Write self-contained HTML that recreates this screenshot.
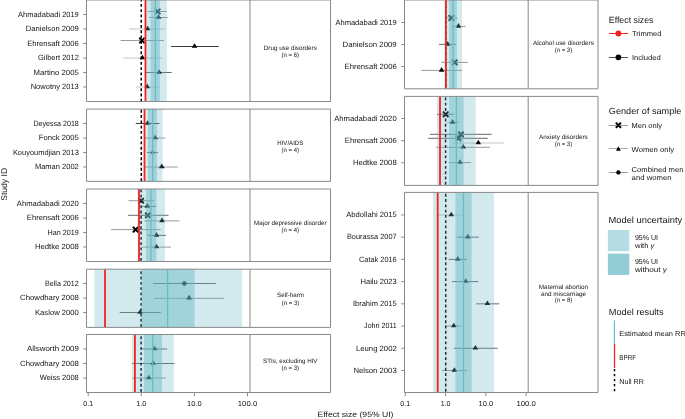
<!DOCTYPE html>
<html><head><meta charset="utf-8"><style>
html,body{margin:0;padding:0;background:#fff;width:685px;height:419px;overflow:hidden;}
svg{display:block;will-change:transform;text-rendering:geometricPrecision;}
</style></head><body>
<svg width="685" height="419" viewBox="0 0 685 419" font-family='"Liberation Sans", sans-serif'>
<rect width="685" height="419" fill="#fff"/>
<line x1="147.7" y1="11.5" x2="166.9" y2="11.5" stroke="#9a9a9a" stroke-width="1.0"/>
<line x1="148.9" y1="17.5" x2="167.8" y2="17.5" stroke="#9a9a9a" stroke-width="1.0"/>
<line x1="129.0" y1="29.0" x2="165.1" y2="29.0" stroke="#c4c4c4" stroke-width="1.0"/>
<line x1="120.6" y1="40.5" x2="163.9" y2="40.5" stroke="#9a9a9a" stroke-width="1.0"/>
<line x1="171.0" y1="46.5" x2="218.6" y2="46.5" stroke="#3a3a3a" stroke-width="1.0"/>
<line x1="123.4" y1="58.0" x2="161.7" y2="58.0" stroke="#c4c4c4" stroke-width="1.0"/>
<line x1="145.5" y1="72.5" x2="171.7" y2="72.5" stroke="#6a6a6a" stroke-width="1.0"/>
<line x1="135.9" y1="87.0" x2="158.7" y2="87.0" stroke="#c4c4c4" stroke-width="1.0"/>
<path d="M155.50 9.40L159.70 13.60M159.70 9.40L155.50 13.60" stroke="#000" stroke-width="2.0" stroke-linecap="round" fill="none"/>
<path d="M158.50 14.20L161.30 18.75L155.70 18.75Z" fill="#000"/>
<path d="M147.60 25.70L150.40 30.25L144.80 30.25Z" fill="#000"/>
<path d="M139.80 38.40L144.00 42.60M144.00 38.40L139.80 42.60" stroke="#000" stroke-width="2.0" stroke-linecap="round" fill="none"/>
<path d="M194.55 43.20L197.35 47.75L191.75 47.75Z" fill="#000"/>
<path d="M142.40 54.70L145.20 59.25L139.60 59.25Z" fill="#000"/>
<path d="M159.10 69.20L161.90 73.75L156.30 73.75Z" fill="#000"/>
<path d="M147.30 83.70L150.10 88.25L144.50 88.25Z" fill="#000"/>
<line x1="141.25" y1="0.0" x2="141.25" y2="101.5" stroke="#000" stroke-width="1.5" stroke-dasharray="2.9 2.37" stroke-dashoffset="1.35"/>
<rect x="146.0" y="0.0" width="20.90" height="101.50" fill="#62b6c4" fill-opacity="0.285"/>
<rect x="150.6" y="0.0" width="9.30" height="101.50" fill="#62b6c4" fill-opacity="0.44"/>
<line x1="155.4" y1="0.0" x2="155.4" y2="101.5" stroke="#6cbac3" stroke-width="1.3"/>
<line x1="145.45" y1="0.0" x2="145.45" y2="101.5" stroke="#f72020" stroke-width="1.8"/>
<line x1="86.5" y1="0.0" x2="330.5" y2="0.0" stroke="#898989" stroke-width="1.0"/>
<line x1="86.5" y1="101.5" x2="330.5" y2="101.5" stroke="#898989" stroke-width="1.0"/>
<line x1="86.5" y1="0.0" x2="86.5" y2="101.5" stroke="#898989" stroke-width="1.0"/>
<line x1="330.5" y1="0.0" x2="330.5" y2="101.5" stroke="#898989" stroke-width="1.0"/>
<line x1="250.0" y1="0.0" x2="250.0" y2="101.5" stroke="#898989" stroke-width="1.0"/>
<text x="290.3" y="49.9" font-size="6.3" text-anchor="middle" fill="#141414" textLength="53.0" lengthAdjust="spacingAndGlyphs">Drug use disorders</text>
<text x="290.3" y="57.0" font-size="6.3" text-anchor="middle" fill="#141414" textLength="17.5" lengthAdjust="spacingAndGlyphs">(n = 6)</text>
<line x1="135.8" y1="123.5" x2="159.3" y2="123.5" stroke="#3a3a3a" stroke-width="1.0"/>
<line x1="145.0" y1="138.0" x2="165.4" y2="138.0" stroke="#9a9a9a" stroke-width="1.0"/>
<line x1="147.0" y1="152.5" x2="157.9" y2="152.5" stroke="#6a6a6a" stroke-width="1.0"/>
<line x1="145.3" y1="167.0" x2="177.8" y2="167.0" stroke="#9a9a9a" stroke-width="1.0"/>
<path d="M147.70 120.20L150.50 124.75L144.90 124.75Z" fill="#000"/>
<path d="M155.30 134.70L158.10 139.25L152.50 139.25Z" fill="#000"/>
<path d="M152.60 149.69L154.98 153.56L150.22 153.56Z" fill="#000"/>
<path d="M161.70 163.53L164.64 168.31L158.76 168.31Z" fill="#000"/>
<line x1="141.3" y1="109.1" x2="141.3" y2="181.4" stroke="#000" stroke-width="1.5" stroke-dasharray="2.9 2.37" stroke-dashoffset="-0.75"/>
<rect x="145.3" y="109.1" width="17.30" height="72.30" fill="#62b6c4" fill-opacity="0.285"/>
<rect x="148.0" y="109.1" width="9.00" height="72.30" fill="#62b6c4" fill-opacity="0.44"/>
<line x1="152.7" y1="109.1" x2="152.7" y2="181.4" stroke="#6cbac3" stroke-width="1.3"/>
<line x1="144.5" y1="109.1" x2="144.5" y2="181.4" stroke="#f72020" stroke-width="1.8"/>
<line x1="86.5" y1="109.1" x2="330.5" y2="109.1" stroke="#898989" stroke-width="1.0"/>
<line x1="86.5" y1="181.4" x2="330.5" y2="181.4" stroke="#898989" stroke-width="1.0"/>
<line x1="86.5" y1="109.1" x2="86.5" y2="181.4" stroke="#898989" stroke-width="1.0"/>
<line x1="330.5" y1="109.1" x2="330.5" y2="181.4" stroke="#898989" stroke-width="1.0"/>
<line x1="250.0" y1="109.1" x2="250.0" y2="181.4" stroke="#898989" stroke-width="1.0"/>
<text x="290.3" y="144.6" font-size="6.3" text-anchor="middle" fill="#141414" textLength="26.0" lengthAdjust="spacingAndGlyphs">HIV/AIDS</text>
<text x="290.3" y="151.6" font-size="6.3" text-anchor="middle" fill="#141414" textLength="17.5" lengthAdjust="spacingAndGlyphs">(n = 4)</text>
<line x1="128.5" y1="200.7" x2="153.9" y2="200.7" stroke="#9a9a9a" stroke-width="1.0"/>
<line x1="142.1" y1="206.4" x2="155.8" y2="206.4" stroke="#6a6a6a" stroke-width="1.0"/>
<line x1="128.1" y1="215.3" x2="168.5" y2="215.3" stroke="#6a6a6a" stroke-width="1.0"/>
<line x1="144.4" y1="220.9" x2="179.5" y2="220.9" stroke="#9a9a9a" stroke-width="1.0"/>
<line x1="111.1" y1="229.6" x2="160.8" y2="229.6" stroke="#9a9a9a" stroke-width="1.0"/>
<line x1="147.3" y1="235.4" x2="166.0" y2="235.4" stroke="#6a6a6a" stroke-width="1.0"/>
<line x1="142.1" y1="247.1" x2="171.0" y2="247.1" stroke="#9a9a9a" stroke-width="1.0"/>
<path d="M139.10 198.60L143.30 202.80M143.30 198.60L139.10 202.80" stroke="#000" stroke-width="2.0" stroke-linecap="round" fill="none"/>
<path d="M147.30 203.10L150.10 207.65L144.50 207.65Z" fill="#000"/>
<path d="M145.80 213.20L150.00 217.40M150.00 213.20L145.80 217.40" stroke="#000" stroke-width="2.0" stroke-linecap="round" fill="none"/>
<path d="M162.00 217.60L164.80 222.15L159.20 222.15Z" fill="#000"/>
<path d="M133.39 227.39L137.81 231.81M137.81 227.39L133.39 231.81" stroke="#000" stroke-width="2.0" stroke-linecap="round" fill="none"/>
<path d="M156.40 232.10L159.20 236.65L153.60 236.65Z" fill="#000"/>
<path d="M156.40 243.80L159.20 248.35L153.60 248.35Z" fill="#000"/>
<line x1="141.1" y1="189.0" x2="141.1" y2="261.5" stroke="#000" stroke-width="1.5" stroke-dasharray="2.9 2.37" stroke-dashoffset="-0.45"/>
<rect x="137.6" y="189.0" width="27.30" height="72.50" fill="#62b6c4" fill-opacity="0.285"/>
<rect x="146.0" y="189.0" width="10.40" height="72.50" fill="#62b6c4" fill-opacity="0.44"/>
<line x1="151.0" y1="189.0" x2="151.0" y2="261.5" stroke="#6cbac3" stroke-width="1.3"/>
<line x1="139.0" y1="189.0" x2="139.0" y2="261.5" stroke="#f72020" stroke-width="1.8"/>
<line x1="86.5" y1="189.0" x2="330.5" y2="189.0" stroke="#898989" stroke-width="1.0"/>
<line x1="86.5" y1="261.5" x2="330.5" y2="261.5" stroke="#898989" stroke-width="1.0"/>
<line x1="86.5" y1="189.0" x2="86.5" y2="261.5" stroke="#898989" stroke-width="1.0"/>
<line x1="330.5" y1="189.0" x2="330.5" y2="261.5" stroke="#898989" stroke-width="1.0"/>
<line x1="250.0" y1="189.0" x2="250.0" y2="261.5" stroke="#898989" stroke-width="1.0"/>
<text x="290.3" y="224.6" font-size="6.3" text-anchor="middle" fill="#141414" textLength="72.4" lengthAdjust="spacingAndGlyphs">Major depressive disorder</text>
<text x="290.3" y="231.6" font-size="6.3" text-anchor="middle" fill="#141414" textLength="17.5" lengthAdjust="spacingAndGlyphs">(n = 4)</text>
<line x1="153.3" y1="283.5" x2="215.8" y2="283.5" stroke="#6a6a6a" stroke-width="1.0"/>
<line x1="154.0" y1="298.3" x2="224.0" y2="298.3" stroke="#9a9a9a" stroke-width="1.0"/>
<line x1="119.7" y1="312.5" x2="160.7" y2="312.5" stroke="#6a6a6a" stroke-width="1.0"/>
<circle cx="184.4" cy="283.5" r="2.3" fill="#000"/>
<path d="M189.10 294.84L192.04 299.61L186.16 299.61Z" fill="#000"/>
<path d="M140.10 309.20L142.90 313.75L137.30 313.75Z" fill="#000"/>
<line x1="141.1" y1="269.2" x2="141.1" y2="327.4" stroke="#000" stroke-width="1.5" stroke-dasharray="2.9 2.37" stroke-dashoffset="-2.15"/>
<rect x="94.4" y="269.2" width="147.70" height="58.20" fill="#62b6c4" fill-opacity="0.285"/>
<rect x="141.6" y="269.2" width="52.90" height="58.20" fill="#62b6c4" fill-opacity="0.44"/>
<line x1="167.6" y1="269.2" x2="167.6" y2="327.4" stroke="#6cbac3" stroke-width="1.3"/>
<line x1="105.0" y1="269.2" x2="105.0" y2="327.4" stroke="#f72020" stroke-width="1.8"/>
<line x1="86.5" y1="269.2" x2="330.5" y2="269.2" stroke="#898989" stroke-width="1.0"/>
<line x1="86.5" y1="327.4" x2="330.5" y2="327.4" stroke="#898989" stroke-width="1.0"/>
<line x1="86.5" y1="269.2" x2="86.5" y2="327.4" stroke="#898989" stroke-width="1.0"/>
<line x1="330.5" y1="269.2" x2="330.5" y2="327.4" stroke="#898989" stroke-width="1.0"/>
<line x1="250.0" y1="269.2" x2="250.0" y2="327.4" stroke="#898989" stroke-width="1.0"/>
<text x="290.5" y="297.3" font-size="6.3" text-anchor="middle" fill="#141414" textLength="26.9" lengthAdjust="spacingAndGlyphs">Self-harm</text>
<text x="290.5" y="304.5" font-size="6.3" text-anchor="middle" fill="#141414" textLength="17.5" lengthAdjust="spacingAndGlyphs">(n = 3)</text>
<line x1="141.0" y1="349.0" x2="167.0" y2="349.0" stroke="#6a6a6a" stroke-width="1.0"/>
<line x1="132.1" y1="363.5" x2="174.4" y2="363.5" stroke="#6a6a6a" stroke-width="1.0"/>
<line x1="132.1" y1="378.0" x2="165.9" y2="378.0" stroke="#9a9a9a" stroke-width="1.0"/>
<path d="M154.60 345.70L157.40 350.25L151.80 350.25Z" fill="#000"/>
<path d="M153.20 360.20L156.00 364.75L150.40 364.75Z" fill="#000"/>
<path d="M148.80 374.70L151.60 379.25L146.00 379.25Z" fill="#000"/>
<line x1="141.1" y1="334.5" x2="141.1" y2="392.5" stroke="#000" stroke-width="1.5" stroke-dasharray="2.9 2.37" stroke-dashoffset="-1.85"/>
<rect x="131.8" y="334.5" width="41.80" height="58.00" fill="#62b6c4" fill-opacity="0.285"/>
<rect x="143.9" y="334.5" width="18.10" height="58.00" fill="#62b6c4" fill-opacity="0.44"/>
<line x1="152.7" y1="334.5" x2="152.7" y2="392.5" stroke="#6cbac3" stroke-width="1.3"/>
<line x1="134.9" y1="334.5" x2="134.9" y2="392.5" stroke="#f72020" stroke-width="1.8"/>
<line x1="86.5" y1="334.5" x2="330.5" y2="334.5" stroke="#898989" stroke-width="1.0"/>
<line x1="86.5" y1="392.5" x2="330.5" y2="392.5" stroke="#898989" stroke-width="1.0"/>
<line x1="86.5" y1="334.5" x2="86.5" y2="392.5" stroke="#898989" stroke-width="1.0"/>
<line x1="330.5" y1="334.5" x2="330.5" y2="392.5" stroke="#898989" stroke-width="1.0"/>
<line x1="250.0" y1="334.5" x2="250.0" y2="392.5" stroke="#898989" stroke-width="1.0"/>
<text x="290.3" y="363.1" font-size="6.3" text-anchor="middle" fill="#141414" textLength="54.4" lengthAdjust="spacingAndGlyphs">STIs, excluding HIV</text>
<text x="290.3" y="370.1" font-size="6.3" text-anchor="middle" fill="#141414" textLength="17.5" lengthAdjust="spacingAndGlyphs">(n = 3)</text>
<line x1="446.0" y1="18.0" x2="457.7" y2="18.0" stroke="#9a9a9a" stroke-width="1.0"/>
<line x1="451.8" y1="26.4" x2="465.6" y2="26.4" stroke="#9a9a9a" stroke-width="1.0"/>
<line x1="438.8" y1="44.4" x2="456.1" y2="44.4" stroke="#6a6a6a" stroke-width="1.0"/>
<line x1="441.3" y1="62.4" x2="467.8" y2="62.4" stroke="#9a9a9a" stroke-width="1.0"/>
<line x1="421.2" y1="70.4" x2="462.2" y2="70.4" stroke="#9a9a9a" stroke-width="1.0"/>
<path d="M449.30 15.79L453.70 20.20M453.70 15.79L449.30 20.20" stroke="#000" stroke-width="2.0" stroke-linecap="round" fill="none"/>
<path d="M458.50 23.10L461.30 27.65L455.70 27.65Z" fill="#000"/>
<path d="M447.70 41.10L450.50 45.65L444.90 45.65Z" fill="#000"/>
<path d="M452.60 60.30L456.80 64.50M456.80 60.30L452.60 64.50" stroke="#000" stroke-width="2.0" stroke-linecap="round" fill="none"/>
<path d="M441.60 67.10L444.40 71.65L438.80 71.65Z" fill="#000"/>
<line x1="445.85" y1="0.0" x2="445.85" y2="88.8" stroke="#000" stroke-width="1.5" stroke-dasharray="2.9 2.37" stroke-dashoffset="0.25"/>
<rect x="444.5" y="0.0" width="17.50" height="88.80" fill="#62b6c4" fill-opacity="0.285"/>
<rect x="449.0" y="0.0" width="7.90" height="88.80" fill="#62b6c4" fill-opacity="0.44"/>
<line x1="453.1" y1="0.0" x2="453.1" y2="88.8" stroke="#6cbac3" stroke-width="1.3"/>
<line x1="445.85" y1="0.0" x2="445.85" y2="88.8" stroke="#f72020" stroke-width="1.8"/>
<line x1="404.5" y1="0.0" x2="598.0" y2="0.0" stroke="#898989" stroke-width="1.0"/>
<line x1="404.5" y1="88.8" x2="598.0" y2="88.8" stroke="#898989" stroke-width="1.0"/>
<line x1="404.5" y1="0.0" x2="404.5" y2="88.8" stroke="#898989" stroke-width="1.0"/>
<line x1="598.0" y1="0.0" x2="598.0" y2="88.8" stroke="#898989" stroke-width="1.0"/>
<line x1="528.2" y1="0.0" x2="528.2" y2="88.8" stroke="#898989" stroke-width="1.0"/>
<text x="563.4" y="44.8" font-size="6.3" text-anchor="middle" fill="#141414" textLength="61.0" lengthAdjust="spacingAndGlyphs">Alcohol use disorders</text>
<text x="563.4" y="52.0" font-size="6.3" text-anchor="middle" fill="#141414" textLength="17.5" lengthAdjust="spacingAndGlyphs">(n = 3)</text>
<line x1="436.9" y1="114.3" x2="454.1" y2="114.3" stroke="#6a6a6a" stroke-width="1.0"/>
<line x1="447.2" y1="122.4" x2="458.8" y2="122.4" stroke="#9a9a9a" stroke-width="1.0"/>
<line x1="430.0" y1="134.3" x2="491.6" y2="134.3" stroke="#6a6a6a" stroke-width="1.0"/>
<line x1="428.1" y1="138.3" x2="487.7" y2="138.3" stroke="#6a6a6a" stroke-width="1.0"/>
<line x1="452.9" y1="143.0" x2="503.8" y2="143.0" stroke="#c4c4c4" stroke-width="1.0"/>
<line x1="436.2" y1="147.3" x2="489.8" y2="147.3" stroke="#9a9a9a" stroke-width="1.0"/>
<line x1="448.9" y1="162.6" x2="471.1" y2="162.6" stroke="#9a9a9a" stroke-width="1.0"/>
<path d="M443.50 112.09L447.90 116.50M447.90 112.09L443.50 116.50" stroke="#000" stroke-width="2.0" stroke-linecap="round" fill="none"/>
<path d="M452.60 119.10L455.40 123.65L449.80 123.65Z" fill="#000"/>
<path d="M458.90 132.20L463.10 136.40M463.10 132.20L458.90 136.40" stroke="#000" stroke-width="2.0" stroke-linecap="round" fill="none"/>
<path d="M456.40 136.20L460.60 140.40M460.60 136.20L456.40 140.40" stroke="#000" stroke-width="2.0" stroke-linecap="round" fill="none"/>
<path d="M478.30 139.70L481.10 144.25L475.50 144.25Z" fill="#000"/>
<path d="M463.20 144.00L466.00 148.55L460.40 148.55Z" fill="#000"/>
<path d="M460.10 159.30L462.90 163.85L457.30 163.85Z" fill="#000"/>
<line x1="445.6" y1="96.4" x2="445.6" y2="185.4" stroke="#000" stroke-width="1.5" stroke-dasharray="2.9 2.37" stroke-dashoffset="-1.05"/>
<rect x="436.9" y="96.4" width="38.80" height="89.00" fill="#62b6c4" fill-opacity="0.285"/>
<rect x="449.0" y="96.4" width="14.60" height="89.00" fill="#62b6c4" fill-opacity="0.44"/>
<line x1="456.4" y1="96.4" x2="456.4" y2="185.4" stroke="#6cbac3" stroke-width="1.3"/>
<line x1="440.0" y1="96.4" x2="440.0" y2="185.4" stroke="#f72020" stroke-width="1.8"/>
<line x1="404.5" y1="96.4" x2="598.0" y2="96.4" stroke="#898989" stroke-width="1.0"/>
<line x1="404.5" y1="185.4" x2="598.0" y2="185.4" stroke="#898989" stroke-width="1.0"/>
<line x1="404.5" y1="96.4" x2="404.5" y2="185.4" stroke="#898989" stroke-width="1.0"/>
<line x1="598.0" y1="96.4" x2="598.0" y2="185.4" stroke="#898989" stroke-width="1.0"/>
<line x1="528.2" y1="96.4" x2="528.2" y2="185.4" stroke="#898989" stroke-width="1.0"/>
<text x="563.4" y="138.8" font-size="6.3" text-anchor="middle" fill="#141414" textLength="48.7" lengthAdjust="spacingAndGlyphs">Anxiety disorders</text>
<text x="563.4" y="146.0" font-size="6.3" text-anchor="middle" fill="#141414" textLength="17.5" lengthAdjust="spacingAndGlyphs">(n = 3)</text>
<line x1="438.0" y1="214.95" x2="464.3" y2="214.95" stroke="#c4c4c4" stroke-width="1.0"/>
<line x1="457.2" y1="237.17" x2="478.8" y2="237.17" stroke="#6a6a6a" stroke-width="1.0"/>
<line x1="448.6" y1="259.39" x2="467.0" y2="259.39" stroke="#6a6a6a" stroke-width="1.0"/>
<line x1="452.0" y1="281.61" x2="478.3" y2="281.61" stroke="#6a6a6a" stroke-width="1.0"/>
<line x1="476.2" y1="303.83" x2="499.3" y2="303.83" stroke="#6a6a6a" stroke-width="1.0"/>
<line x1="445.2" y1="326.05" x2="461.7" y2="326.05" stroke="#9a9a9a" stroke-width="1.0"/>
<line x1="453.8" y1="348.27" x2="497.7" y2="348.27" stroke="#6a6a6a" stroke-width="1.0"/>
<line x1="442.0" y1="370.49" x2="467.0" y2="370.49" stroke="#9a9a9a" stroke-width="1.0"/>
<path d="M451.20 211.65L454.00 216.20L448.40 216.20Z" fill="#000"/>
<path d="M467.80 233.87L470.60 238.42L465.00 238.42Z" fill="#000"/>
<path d="M457.80 256.09L460.60 260.64L455.00 260.64Z" fill="#000"/>
<path d="M465.70 278.31L468.50 282.86L462.90 282.86Z" fill="#000"/>
<path d="M487.40 300.53L490.20 305.08L484.60 305.08Z" fill="#000"/>
<path d="M453.80 322.75L456.60 327.30L451.00 327.30Z" fill="#000"/>
<path d="M475.40 344.97L478.20 349.52L472.60 349.52Z" fill="#000"/>
<path d="M454.40 367.19L457.20 371.74L451.60 371.74Z" fill="#000"/>
<line x1="445.7" y1="192.4" x2="445.7" y2="392.5" stroke="#000" stroke-width="1.5" stroke-dasharray="2.9 2.37" stroke-dashoffset="-1.45"/>
<rect x="433.0" y="192.4" width="61.00" height="200.10" fill="#62b6c4" fill-opacity="0.285"/>
<rect x="455.4" y="192.4" width="16.20" height="200.10" fill="#62b6c4" fill-opacity="0.44"/>
<line x1="463.5" y1="192.4" x2="463.5" y2="392.5" stroke="#6cbac3" stroke-width="1.3"/>
<line x1="437.7" y1="192.4" x2="437.7" y2="392.5" stroke="#f72020" stroke-width="1.8"/>
<line x1="404.5" y1="192.4" x2="598.0" y2="192.4" stroke="#898989" stroke-width="1.0"/>
<line x1="404.5" y1="392.5" x2="598.0" y2="392.5" stroke="#898989" stroke-width="1.0"/>
<line x1="404.5" y1="192.4" x2="404.5" y2="392.5" stroke="#898989" stroke-width="1.0"/>
<line x1="598.0" y1="192.4" x2="598.0" y2="392.5" stroke="#898989" stroke-width="1.0"/>
<line x1="528.2" y1="192.4" x2="528.2" y2="392.5" stroke="#898989" stroke-width="1.0"/>
<text x="563.5" y="288.7" font-size="6.3" text-anchor="middle" fill="#141414" textLength="49.3" lengthAdjust="spacingAndGlyphs">Maternal abortion</text>
<text x="563.5" y="296.0" font-size="6.3" text-anchor="middle" fill="#141414" textLength="45.2" lengthAdjust="spacingAndGlyphs">and miscarriage</text>
<text x="563.5" y="302.4" font-size="6.3" text-anchor="middle" fill="#141414" textLength="17.5" lengthAdjust="spacingAndGlyphs">(n = 8)</text>
<line x1="83.2" y1="14.5" x2="86.5" y2="14.5" stroke="#898989" stroke-width="1.0"/>
<text x="78.8" y="16.75" font-size="7.6" text-anchor="end" fill="#141414" textLength="60.7" lengthAdjust="spacingAndGlyphs">Ahmadabadi 2019</text>
<line x1="83.2" y1="29.0" x2="86.5" y2="29.0" stroke="#898989" stroke-width="1.0"/>
<text x="78.8" y="31.25" font-size="7.6" text-anchor="end" fill="#141414" textLength="53.1" lengthAdjust="spacingAndGlyphs">Danielson 2009</text>
<line x1="83.2" y1="43.5" x2="86.5" y2="43.5" stroke="#898989" stroke-width="1.0"/>
<text x="78.8" y="45.75" font-size="7.6" text-anchor="end" fill="#141414" textLength="51.6" lengthAdjust="spacingAndGlyphs">Ehrensaft 2006</text>
<line x1="83.2" y1="58.0" x2="86.5" y2="58.0" stroke="#898989" stroke-width="1.0"/>
<text x="78.8" y="60.25" font-size="7.6" text-anchor="end" fill="#141414" textLength="40.8" lengthAdjust="spacingAndGlyphs">Gilbert 2012</text>
<line x1="83.2" y1="72.5" x2="86.5" y2="72.5" stroke="#898989" stroke-width="1.0"/>
<text x="78.8" y="74.75" font-size="7.6" text-anchor="end" fill="#141414" textLength="45.2" lengthAdjust="spacingAndGlyphs">Martino 2005</text>
<line x1="83.2" y1="87.0" x2="86.5" y2="87.0" stroke="#898989" stroke-width="1.0"/>
<text x="78.8" y="89.25" font-size="7.6" text-anchor="end" fill="#141414" textLength="48.1" lengthAdjust="spacingAndGlyphs">Nowotny 2013</text>
<line x1="83.2" y1="123.5" x2="86.5" y2="123.5" stroke="#898989" stroke-width="1.0"/>
<text x="78.8" y="125.75" font-size="7.6" text-anchor="end" fill="#141414" textLength="45.4" lengthAdjust="spacingAndGlyphs">Deyessa 2018</text>
<line x1="83.2" y1="138.0" x2="86.5" y2="138.0" stroke="#898989" stroke-width="1.0"/>
<text x="78.8" y="140.25" font-size="7.6" text-anchor="end" fill="#141414" textLength="40.0" lengthAdjust="spacingAndGlyphs">Fonck 2005</text>
<line x1="83.2" y1="152.5" x2="86.5" y2="152.5" stroke="#898989" stroke-width="1.0"/>
<text x="78.8" y="154.75" font-size="7.6" text-anchor="end" fill="#141414" textLength="65.9" lengthAdjust="spacingAndGlyphs">Kouyoumdjian 2013</text>
<line x1="83.2" y1="167.0" x2="86.5" y2="167.0" stroke="#898989" stroke-width="1.0"/>
<text x="78.8" y="169.25" font-size="7.6" text-anchor="end" fill="#141414" textLength="43.9" lengthAdjust="spacingAndGlyphs">Maman 2002</text>
<line x1="83.2" y1="203.5" x2="86.5" y2="203.5" stroke="#898989" stroke-width="1.0"/>
<text x="78.8" y="205.75" font-size="7.6" text-anchor="end" fill="#141414" textLength="62.0" lengthAdjust="spacingAndGlyphs">Ahmadabadi 2020</text>
<line x1="83.2" y1="218.0" x2="86.5" y2="218.0" stroke="#898989" stroke-width="1.0"/>
<text x="78.8" y="220.25" font-size="7.6" text-anchor="end" fill="#141414" textLength="52.0" lengthAdjust="spacingAndGlyphs">Ehrensaft 2006</text>
<line x1="83.2" y1="232.5" x2="86.5" y2="232.5" stroke="#898989" stroke-width="1.0"/>
<text x="78.8" y="234.75" font-size="7.6" text-anchor="end" fill="#141414" textLength="31.3" lengthAdjust="spacingAndGlyphs">Han 2019</text>
<line x1="83.2" y1="247.0" x2="86.5" y2="247.0" stroke="#898989" stroke-width="1.0"/>
<text x="78.8" y="249.25" font-size="7.6" text-anchor="end" fill="#141414" textLength="43.9" lengthAdjust="spacingAndGlyphs">Hedtke 2008</text>
<line x1="83.2" y1="283.5" x2="86.5" y2="283.5" stroke="#898989" stroke-width="1.0"/>
<text x="78.8" y="285.75" font-size="7.6" text-anchor="end" fill="#141414" textLength="33.8" lengthAdjust="spacingAndGlyphs">Bella 2012</text>
<line x1="83.2" y1="298.0" x2="86.5" y2="298.0" stroke="#898989" stroke-width="1.0"/>
<text x="78.8" y="300.25" font-size="7.6" text-anchor="end" fill="#141414" textLength="58.7" lengthAdjust="spacingAndGlyphs">Chowdhary 2008</text>
<line x1="83.2" y1="312.5" x2="86.5" y2="312.5" stroke="#898989" stroke-width="1.0"/>
<text x="78.8" y="314.75" font-size="7.6" text-anchor="end" fill="#141414" textLength="43.8" lengthAdjust="spacingAndGlyphs">Kaslow 2000</text>
<line x1="83.2" y1="349.0" x2="86.5" y2="349.0" stroke="#898989" stroke-width="1.0"/>
<text x="78.8" y="351.25" font-size="7.6" text-anchor="end" fill="#141414" textLength="51.7" lengthAdjust="spacingAndGlyphs">Allsworth 2009</text>
<line x1="83.2" y1="363.5" x2="86.5" y2="363.5" stroke="#898989" stroke-width="1.0"/>
<text x="78.8" y="365.75" font-size="7.6" text-anchor="end" fill="#141414" textLength="58.7" lengthAdjust="spacingAndGlyphs">Chowdhary 2008</text>
<line x1="83.2" y1="378.0" x2="86.5" y2="378.0" stroke="#898989" stroke-width="1.0"/>
<text x="78.8" y="380.25" font-size="7.6" text-anchor="end" fill="#141414" textLength="39.1" lengthAdjust="spacingAndGlyphs">Weiss 2008</text>
<line x1="401.2" y1="22.5" x2="404.5" y2="22.5" stroke="#898989" stroke-width="1.0"/>
<text x="396.7" y="24.75" font-size="7.6" text-anchor="end" fill="#141414" textLength="61.3" lengthAdjust="spacingAndGlyphs">Ahmadabadi 2019</text>
<line x1="401.2" y1="44.5" x2="404.5" y2="44.5" stroke="#898989" stroke-width="1.0"/>
<text x="396.7" y="46.75" font-size="7.6" text-anchor="end" fill="#141414" textLength="54.2" lengthAdjust="spacingAndGlyphs">Danielson 2009</text>
<line x1="401.2" y1="66.5" x2="404.5" y2="66.5" stroke="#898989" stroke-width="1.0"/>
<text x="396.7" y="68.75" font-size="7.6" text-anchor="end" fill="#141414" textLength="52.1" lengthAdjust="spacingAndGlyphs">Ehrensaft 2006</text>
<line x1="401.2" y1="118.5" x2="404.5" y2="118.5" stroke="#898989" stroke-width="1.0"/>
<text x="396.7" y="120.75" font-size="7.6" text-anchor="end" fill="#141414" textLength="62.5" lengthAdjust="spacingAndGlyphs">Ahmadabadi 2020</text>
<line x1="401.2" y1="140.65" x2="404.5" y2="140.65" stroke="#898989" stroke-width="1.0"/>
<text x="396.7" y="142.9" font-size="7.6" text-anchor="end" fill="#141414" textLength="51.9" lengthAdjust="spacingAndGlyphs">Ehrensaft 2006</text>
<line x1="401.2" y1="162.8" x2="404.5" y2="162.8" stroke="#898989" stroke-width="1.0"/>
<text x="396.7" y="165.05" font-size="7.6" text-anchor="end" fill="#141414" textLength="43.8" lengthAdjust="spacingAndGlyphs">Hedtke 2008</text>
<line x1="401.2" y1="214.95" x2="404.5" y2="214.95" stroke="#898989" stroke-width="1.0"/>
<text x="396.7" y="217.2" font-size="7.6" text-anchor="end" fill="#141414" textLength="50.5" lengthAdjust="spacingAndGlyphs">Abdollahi 2015</text>
<line x1="401.2" y1="237.17" x2="404.5" y2="237.17" stroke="#898989" stroke-width="1.0"/>
<text x="396.7" y="239.42" font-size="7.6" text-anchor="end" fill="#141414" textLength="49.8" lengthAdjust="spacingAndGlyphs">Bourassa 2007</text>
<line x1="401.2" y1="259.39" x2="404.5" y2="259.39" stroke="#898989" stroke-width="1.0"/>
<text x="396.7" y="261.64" font-size="7.6" text-anchor="end" fill="#141414" textLength="37.7" lengthAdjust="spacingAndGlyphs">Catak 2016</text>
<line x1="401.2" y1="281.61" x2="404.5" y2="281.61" stroke="#898989" stroke-width="1.0"/>
<text x="396.7" y="283.86" font-size="7.6" text-anchor="end" fill="#141414" textLength="36.2" lengthAdjust="spacingAndGlyphs">Hailu 2023</text>
<line x1="401.2" y1="303.83" x2="404.5" y2="303.83" stroke="#898989" stroke-width="1.0"/>
<text x="396.7" y="306.08" font-size="7.6" text-anchor="end" fill="#141414" textLength="43.8" lengthAdjust="spacingAndGlyphs">Ibrahim 2015</text>
<line x1="401.2" y1="326.04999999999995" x2="404.5" y2="326.04999999999995" stroke="#898989" stroke-width="1.0"/>
<text x="396.7" y="328.3" font-size="7.6" text-anchor="end" fill="#141414" textLength="32.6" lengthAdjust="spacingAndGlyphs">Johri 2011</text>
<line x1="401.2" y1="348.27" x2="404.5" y2="348.27" stroke="#898989" stroke-width="1.0"/>
<text x="396.7" y="350.52" font-size="7.6" text-anchor="end" fill="#141414" textLength="40.7" lengthAdjust="spacingAndGlyphs">Leung 2002</text>
<line x1="401.2" y1="370.49" x2="404.5" y2="370.49" stroke="#898989" stroke-width="1.0"/>
<text x="396.7" y="372.74" font-size="7.6" text-anchor="end" fill="#141414" textLength="43.3" lengthAdjust="spacingAndGlyphs">Nelson 2003</text>
<line x1="88.2" y1="392.9" x2="88.2" y2="396.2" stroke="#898989" stroke-width="1.0"/>
<text x="88.2" y="405.9" font-size="7.2" text-anchor="middle" fill="#141414" textLength="9.9" lengthAdjust="spacingAndGlyphs">0.1</text>
<line x1="141.3" y1="392.9" x2="141.3" y2="396.2" stroke="#898989" stroke-width="1.0"/>
<text x="141.3" y="405.9" font-size="7.2" text-anchor="middle" fill="#141414" textLength="9.9" lengthAdjust="spacingAndGlyphs">1.0</text>
<line x1="194.4" y1="392.9" x2="194.4" y2="396.2" stroke="#898989" stroke-width="1.0"/>
<text x="194.4" y="405.9" font-size="7.2" text-anchor="middle" fill="#141414" textLength="14.6" lengthAdjust="spacingAndGlyphs">10.0</text>
<line x1="247.5" y1="392.9" x2="247.5" y2="396.2" stroke="#898989" stroke-width="1.0"/>
<text x="247.5" y="405.9" font-size="7.2" text-anchor="middle" fill="#141414" textLength="19.5" lengthAdjust="spacingAndGlyphs">100.0</text>
<line x1="405.3" y1="392.9" x2="405.3" y2="396.2" stroke="#898989" stroke-width="1.0"/>
<text x="405.3" y="405.9" font-size="7.2" text-anchor="middle" fill="#141414" textLength="9.9" lengthAdjust="spacingAndGlyphs">0.1</text>
<line x1="445.6" y1="392.9" x2="445.6" y2="396.2" stroke="#898989" stroke-width="1.0"/>
<text x="445.6" y="405.9" font-size="7.2" text-anchor="middle" fill="#141414" textLength="9.9" lengthAdjust="spacingAndGlyphs">1.0</text>
<line x1="485.9" y1="392.9" x2="485.9" y2="396.2" stroke="#898989" stroke-width="1.0"/>
<text x="485.9" y="405.9" font-size="7.2" text-anchor="middle" fill="#141414" textLength="14.6" lengthAdjust="spacingAndGlyphs">10.0</text>
<line x1="526.2" y1="392.9" x2="526.2" y2="396.2" stroke="#898989" stroke-width="1.0"/>
<text x="526.2" y="405.9" font-size="7.2" text-anchor="middle" fill="#141414" textLength="19.5" lengthAdjust="spacingAndGlyphs">100.0</text>
<text x="355.5" y="417.2" font-size="7.7" text-anchor="middle" fill="#141414" textLength="75.9" lengthAdjust="spacingAndGlyphs">Effect size (95% UI)</text>
<text transform="translate(6.9 184.35) rotate(-90)" font-size="8.3" text-anchor="middle" fill="#141414" textLength="32.9" lengthAdjust="spacingAndGlyphs">Study ID</text>
<text x="608.8" y="22.6" font-size="9.0" text-anchor="start" fill="#141414" textLength="44.7" lengthAdjust="spacingAndGlyphs">Effect sizes</text>
<line x1="608.9" y1="33.5" x2="628.0" y2="33.5" stroke="#f72020" stroke-width="1.0"/>
<circle cx="618.4" cy="33.5" r="2.9" fill="#f72020"/>
<text x="631.9" y="36.3" font-size="7.2" text-anchor="start" fill="#141414" textLength="29.6" lengthAdjust="spacingAndGlyphs">Trimmed</text>
<line x1="608.9" y1="57.5" x2="628.0" y2="57.5" stroke="#555" stroke-width="1.0"/>
<circle cx="618.4" cy="57.3" r="2.9" fill="#000"/>
<text x="631.9" y="59.7" font-size="7.2" text-anchor="start" fill="#141414" textLength="28.9" lengthAdjust="spacingAndGlyphs">Included</text>
<text x="608.8" y="113.7" font-size="8.9" text-anchor="start" fill="#141414" textLength="72.6" lengthAdjust="spacingAndGlyphs">Gender of sample</text>
<line x1="608.9" y1="125.5" x2="627.9" y2="125.5" stroke="#999" stroke-width="1.0"/>
<path d="M616.40 123.30L620.40 127.30M620.40 123.30L616.40 127.30" stroke="#000" stroke-width="2.0" stroke-linecap="round" fill="none"/>
<text x="631.6" y="127.6" font-size="7.2" text-anchor="start" fill="#141414" textLength="30.4" lengthAdjust="spacingAndGlyphs">Men only</text>
<line x1="608.9" y1="148.5" x2="627.9" y2="148.5" stroke="#aaa" stroke-width="1.0"/>
<path d="M618.40 146.29L620.80 150.71L616.00 150.71Z" fill="#000"/>
<text x="631.6" y="151.6" font-size="7.2" text-anchor="start" fill="#141414" textLength="42.5" lengthAdjust="spacingAndGlyphs">Women only</text>
<line x1="608.9" y1="172.5" x2="627.9" y2="172.5" stroke="#999" stroke-width="1.0"/>
<circle cx="618.4" cy="172.4" r="2.2" fill="#000"/>
<text x="631.6" y="172.0" font-size="7.2" text-anchor="start" fill="#141414" textLength="51.8" lengthAdjust="spacingAndGlyphs">Combined men</text>
<text x="631.6" y="179.7" font-size="7.2" text-anchor="start" fill="#141414" textLength="40.0" lengthAdjust="spacingAndGlyphs">and women</text>
<text x="608.5" y="222.8" font-size="8.9" text-anchor="start" fill="#141414" textLength="73.7" lengthAdjust="spacingAndGlyphs">Model uncertainty</text>
<rect x="607.9" y="230.0" width="21.4" height="21.3" fill="#b5dce2"/>
<rect x="607.9" y="253.6" width="21.4" height="21.3" fill="#92ccd5"/>
<text x="634.9" y="239.6" font-size="7.2" text-anchor="start" fill="#141414" textLength="23.2" lengthAdjust="spacingAndGlyphs">95% UI</text>
<text x="634.9" y="248.0" font-size="7.2" text-anchor="start" fill="#141414" textLength="19.5" lengthAdjust="spacingAndGlyphs">with <tspan font-style="italic">γ</tspan></text>
<text x="634.9" y="263.6" font-size="7.2" text-anchor="start" fill="#141414" textLength="23.2" lengthAdjust="spacingAndGlyphs">95% UI</text>
<text x="634.9" y="271.8" font-size="7.2" text-anchor="start" fill="#141414" textLength="32.0" lengthAdjust="spacingAndGlyphs">without <tspan font-style="italic">γ</tspan></text>
<text x="608.8" y="314.6" font-size="8.9" text-anchor="start" fill="#141414" textLength="54.7" lengthAdjust="spacingAndGlyphs">Model results</text>
<line x1="614.4" y1="320.3" x2="614.4" y2="344.0" stroke="#6cc0ca" stroke-width="1.3"/>
<line x1="614.5" y1="344.0" x2="614.5" y2="367.9" stroke="#f72020" stroke-width="1.3"/>
<line x1="614.5" y1="367.9" x2="614.5" y2="392.0" stroke="#000" stroke-width="1.5" stroke-dasharray="2.4 2.6" stroke-dashoffset="-1"/>
<text x="619.3" y="335.8" font-size="7.2" text-anchor="start" fill="#141414" textLength="66.5" lengthAdjust="spacingAndGlyphs">Estimated mean RR</text>
<text x="619.3" y="359.7" font-size="7.2" text-anchor="start" fill="#141414" textLength="16.8" lengthAdjust="spacingAndGlyphs">BPRF</text>
<text x="619.3" y="383.6" font-size="7.2" text-anchor="start" fill="#141414" textLength="24.6" lengthAdjust="spacingAndGlyphs">Null RR</text>
</svg>
</body></html>
